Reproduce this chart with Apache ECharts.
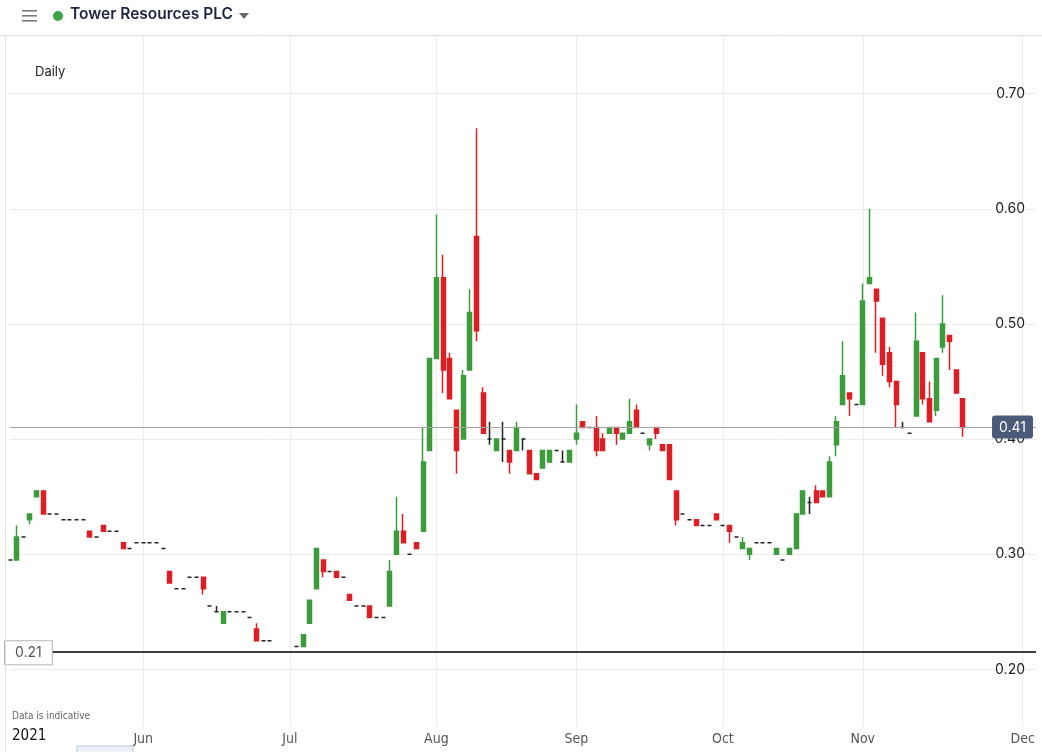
<!DOCTYPE html>
<html><head><meta charset="utf-8">
<script src="https://cdn.jsdelivr.net/npm/echarts@6/dist/echarts.min.js"></script>
<style>html,body{margin:0;padding:0;background:#fff}#c{width:1042px;height:752px}</style>
</head><body><div id="c"></div>
<script>
// Trading days (Apr 30 – Nov 22 2021) followed by empty future calendar days
const dates = [
'2021-04-30',
'2021-05-04','2021-05-05','2021-05-06','2021-05-07','2021-05-10','2021-05-11','2021-05-12','2021-05-13','2021-05-14','2021-05-17','2021-05-18','2021-05-19','2021-05-20','2021-05-21','2021-05-24','2021-05-25','2021-05-26','2021-05-27','2021-05-28',
'2021-06-01','2021-06-02','2021-06-03','2021-06-04','2021-06-07','2021-06-08','2021-06-09','2021-06-10','2021-06-11','2021-06-14','2021-06-15','2021-06-16','2021-06-17','2021-06-18','2021-06-21','2021-06-22','2021-06-23','2021-06-24','2021-06-25','2021-06-28','2021-06-29','2021-06-30',
'2021-07-01','2021-07-02','2021-07-05','2021-07-06','2021-07-07','2021-07-08','2021-07-09','2021-07-12','2021-07-13','2021-07-14','2021-07-15','2021-07-16','2021-07-19','2021-07-20','2021-07-21','2021-07-22','2021-07-23','2021-07-26','2021-07-27','2021-07-28','2021-07-29','2021-07-30',
'2021-08-02','2021-08-03','2021-08-04','2021-08-05','2021-08-06','2021-08-09','2021-08-10','2021-08-11','2021-08-12','2021-08-13','2021-08-16','2021-08-17','2021-08-18','2021-08-19','2021-08-20','2021-08-23','2021-08-24','2021-08-25','2021-08-26','2021-08-27','2021-08-31',
'2021-09-01','2021-09-02','2021-09-03','2021-09-06','2021-09-07','2021-09-08','2021-09-09','2021-09-10','2021-09-13','2021-09-14','2021-09-15','2021-09-16','2021-09-17','2021-09-20','2021-09-21','2021-09-22','2021-09-23','2021-09-24','2021-09-27','2021-09-28','2021-09-29','2021-09-30',
'2021-10-01','2021-10-04','2021-10-05','2021-10-06','2021-10-07','2021-10-08','2021-10-11','2021-10-12','2021-10-13','2021-10-14','2021-10-15','2021-10-18','2021-10-19','2021-10-20','2021-10-21','2021-10-22','2021-10-25','2021-10-26','2021-10-27','2021-10-28','2021-10-29',
'2021-11-01','2021-11-02','2021-11-03','2021-11-04','2021-11-05','2021-11-08','2021-11-09','2021-11-10','2021-11-11','2021-11-12','2021-11-15','2021-11-16','2021-11-17','2021-11-18','2021-11-19','2021-11-22',
'2021-11-23','2021-11-24','2021-11-25','2021-11-26','2021-11-27','2021-11-28','2021-11-29','2021-11-30','2021-12-01','2021-12-02','2021-12-03'
];

const open = [
.295,.295,.315,.33,.35,.355,.335,.335,.33,.33,.33,.33,.32,.315,.325,.32,.32,.31,.305,.31,
.31,.31,.31,.305,.285,.27,.27,.28,.28,.28,.255,.25,.24,.25,.25,.25,.245,.235,.225,.225,
.215,.215,.215,.22,.22,.24,.27,.295,.285,.285,.28,.265,.255,.255,.255,.245,.245,.255,.30,.32,
.30,.31,.32,.39,.47,.54,.47,.425,.40,.46,.576,.44,.40,.39,.40,.39,.39,.40,.39,.37,
.375,.38,.39,.38,.38,.40,.415,.41,.41,.40,.405,.41,.40,.405,.425,.405,.395,.41,.395,.395,
.355,.335,.33,.33,.325,.325,.335,.325,.325,.315,.305,.30,.31,.31,.31,.30,.295,.30,.305,.335,
.345,.355,.355,.35,.395,.43,.44,.43,.43,.535,.53,.505,.475,.45,.41,.405,.42,.475,.435,.425,
.48,.49,.46,.435
];
const close = [
.295,.315,.315,.335,.355,.335,.335,.335,.33,.33,.33,.33,.315,.315,.32,.32,.32,.305,.305,.31,
.31,.31,.31,.305,.275,.27,.27,.28,.28,.27,.255,.25,.25,.25,.25,.25,.245,.225,.225,.225,
.215,.215,.215,.22,.23,.26,.305,.285,.285,.28,.28,.26,.255,.255,.245,.245,.245,.285,.32,.31,
.30,.305,.38,.47,.54,.46,.435,.39,.455,.51,.494,.405,.40,.40,.40,.38,.41,.40,.37,.365,
.39,.39,.39,.38,.39,.405,.41,.41,.39,.39,.41,.405,.405,.415,.41,.405,.40,.405,.39,.365,
.33,.335,.33,.325,.325,.325,.33,.325,.32,.315,.31,.305,.31,.31,.31,.305,.295,.305,.335,.355,
.345,.345,.35,.38,.415,.455,.435,.43,.52,.54,.52,.465,.45,.43,.41,.405,.485,.435,.415,.47,
.50,.485,.44,.41
];
const low = [
.295,.295,.315,.326,.35,.335,.335,.335,.33,.33,.33,.33,.315,.315,.32,.32,.32,.305,.305,.31,
.31,.31,.31,.305,.275,.27,.27,.28,.28,.265,.255,.25,.24,.25,.25,.25,.245,.225,.225,.225,
.215,.215,.215,.22,.22,.24,.27,.28,.285,.28,.28,.26,.255,.255,.245,.245,.245,.255,.30,.31,
.30,.305,.32,.39,.47,.44,.435,.37,.40,.46,.485,.405,.395,.39,.38,.37,.39,.39,.37,.365,
.375,.38,.39,.38,.38,.395,.41,.41,.385,.39,.405,.395,.40,.405,.41,.405,.39,.40,.39,.365,
.325,.335,.33,.325,.325,.325,.33,.325,.31,.315,.305,.295,.31,.31,.31,.30,.295,.30,.305,.335,
.335,.345,.35,.35,.385,.43,.42,.43,.43,.535,.475,.455,.445,.41,.41,.405,.42,.43,.415,.42,
.475,.46,.44,.402
];
const high = [
.295,.325,.315,.335,.355,.355,.335,.335,.33,.33,.33,.33,.32,.315,.325,.32,.32,.31,.305,.31,
.31,.31,.31,.305,.285,.27,.27,.28,.28,.28,.255,.255,.25,.25,.25,.25,.245,.24,.225,.225,
.215,.215,.215,.22,.23,.26,.305,.295,.285,.285,.28,.265,.255,.255,.255,.245,.245,.295,.35,.335,
.30,.31,.41,.47,.595,.56,.475,.425,.46,.53,.67,.445,.415,.40,.415,.39,.415,.40,.39,.37,
.39,.39,.39,.39,.39,.43,.415,.41,.42,.405,.41,.41,.405,.435,.43,.405,.40,.41,.395,.395,
.355,.335,.33,.33,.325,.325,.335,.325,.325,.315,.315,.305,.31,.31,.31,.305,.295,.305,.335,.355,
.35,.36,.355,.385,.42,.485,.44,.43,.535,.60,.53,.505,.48,.45,.415,.405,.51,.475,.45,.47,
.525,.49,.46,.435
];

const monthNames = {'06':'Jun','07':'Jul','08':'Aug','09':'Sep','10':'Oct','11':'Nov','12':'Dec'};
const yearLabel = '2021';
const lastPrice = 0.41;
const levelValue = 0.215;
const levelLabel = '0.21';

const candles = open.map((o, i) => [o, close[i], low[i], high[i]]);
const isMonthStart = (idx) => {
  if (idx === 0) return false;
  const m = dates[idx].slice(5, 7);
  return m !== dates[idx - 1].slice(5, 7) && monthNames[m] !== undefined;
};

const condensed = "'Liberation Sans Narrow','DejaVu Sans Condensed','Roboto Condensed',Roboto,sans-serif";
const labelFont = "Inter,'Open Sans','Noto Sans',sans-serif";
const UP = '#3c9c3c', DOWN = '#dd1e24';

const chart = echarts.init(document.getElementById('c'), null, {renderer: 'canvas'});
chart.setOption({
  animation: false,
  backgroundColor: '#fff',
  grid: {left: 10, right: 6, top: 36, bottom: 25, containLabel: false},
  xAxis: {
    type: 'category',
    data: dates,
    boundaryGap: false,
    axisLine: {show: false},
    axisTick: {show: false},
    splitLine: {show: true, interval: (i) => isMonthStart(i), lineStyle: {color: '#ebebeb', width: 1}},
    axisLabel: {
      interval: (i) => isMonthStart(i),
      formatter: (v) => monthNames[v.slice(5, 7)] || '',
      color: '#555', fontSize: 14, fontFamily: condensed, margin: 5
    }
  },
  yAxis: {
    type: 'value',
    position: 'right',
    min: 0.15, max: 0.75,
    axisLine: {show: false},
    axisTick: {show: false},
    splitLine: {show: true, showMinLine: false, showMaxLine: false, lineStyle: {color: '#ebebeb', width: 1}},
    axisLabel: {
      inside: true, margin: 11, showMinLabel: false, showMaxLabel: false,
      formatter: (v) => v.toFixed(2),
      color: '#222', fontSize: 14, fontFamily: labelFont
    }
  },
  series: [{
    type: 'candlestick',
    data: candles,
    barWidth: 4.5,
    clip: false,
    itemStyle: {
      color: UP, color0: DOWN,
      borderColor: UP, borderColor0: DOWN,
      borderColorDoji: '#222',
      borderWidth: 1.5
    },
    markLine: {
      symbol: 'none', silent: true, animation: false, precision: 3,
      data: [
        {
          yAxis: lastPrice,
          lineStyle: {color: '#a3a3a3', width: 1, type: 'solid'},
          label: {
            show: true, position: 'insideEndTop', distance: 0, offset: [-3, 11],
            formatter: lastPrice.toFixed(2),
            color: '#fff', backgroundColor: '#4a5a78', borderRadius: 3,
            padding: [5, 7, 4, 7], fontSize: 14, fontFamily: labelFont
          }
        },
        {
          yAxis: levelValue,
          lineStyle: {color: '#3e3e3e', width: 2, type: 'solid'},
          label: {
            show: true, position: 'insideStartTop', distance: 0, offset: [-5, 12],
            formatter: levelLabel,
            color: '#555', backgroundColor: '#fff', borderColor: '#b5b5b5', borderWidth: 1,
            padding: [5, 10, 4, 10], fontSize: 14, fontFamily: labelFont
          }
        }
      ]
    }
  }],
  graphic: [
    {type: 'line', shape: {x1: 0, y1: 35.5, x2: 1042, y2: 35.5}, style: {stroke: '#dcdcdc', lineWidth: 1}, z: 10},
    {type: 'line', shape: {x1: 5.5, y1: 36, x2: 5.5, y2: 752}, style: {stroke: '#e2e2e2', lineWidth: 1}, z: 10},
    {type: 'rect', shape: {x: 22, y: 10, width: 15, height: 1.6}, style: {fill: '#7a7a7a'}, z: 10},
    {type: 'rect', shape: {x: 22, y: 15, width: 15, height: 1.6}, style: {fill: '#7a7a7a'}, z: 10},
    {type: 'rect', shape: {x: 22, y: 20, width: 15, height: 1.6}, style: {fill: '#7a7a7a'}, z: 10},
    {type: 'circle', shape: {cx: 58, cy: 16, r: 5}, style: {fill: '#3aa545'}, z: 10},
    {type: 'text', left: 70, top: 6, style: {text: 'Tower Resources PLC', fill: '#1b2440', font: "600 15.5px Inter, 'Open Sans', sans-serif"}, z: 10},
    {type: 'polygon', shape: {points: [[239, 13], [249, 13], [244, 19]]}, style: {fill: '#6a6a6a'}, z: 10},
    {type: 'text', left: 35, top: 66, style: {text: 'Daily', fill: '#222', font: "13px " + labelFont}, z: 10},
    {type: 'text', left: 12, top: 711, style: {text: 'Data is indicative', fill: '#666', font: "10px " + condensed}, z: 10},
    {type: 'text', left: 12, top: 729, style: {text: yearLabel, fill: '#111', font: "15px " + condensed}, z: 10},
    {type: 'rect', shape: {x: 77, y: 746, width: 56, height: 8}, style: {fill: '#eaf1f9', stroke: '#b9c8da', lineWidth: 1}, z: 10}
  ]
});
</script></body></html>
